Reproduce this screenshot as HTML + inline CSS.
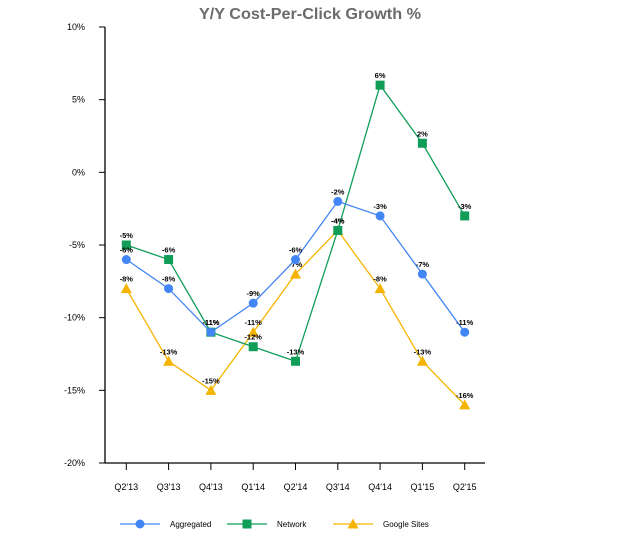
<!DOCTYPE html>
<html><head><meta charset="utf-8"><style>
body{margin:0;background:#fff;width:631px;height:533px;overflow:hidden}
text{font-family:"Liberation Sans",sans-serif}
</style></head><body>
<svg id="c" width="631" height="533">
<text x="310" y="19" text-anchor="middle" font-size="16" font-weight="bold" fill="#6b6b6b" textLength="222" lengthAdjust="spacingAndGlyphs">Y/Y Cost-Per-Click Growth %</text>
</svg>
<script>
const categories=["Q2'13","Q3'13","Q4'13","Q1'14","Q2'14","Q3'14","Q4'14","Q1'15","Q2'15"];
const aggregated=[-6,-8,-11,-9,-6,-2,-3,-7,-11];
const network=[-5,-6,-11,-12,-13,-4,6,2,-3];
const googleSites=[-8,-13,-15,-11,-7,-4,-8,-13,-16];
const yTicks=[10,5,0,-5,-10,-15,-20];
const svg=document.getElementById('c');const NS='http://www.w3.org/2000/svg';
const x0=126.3,dx=42.3,yTop=27,yBot=463,yMax=10,yMin=-20;
const X=i=>x0+i*dx;const Y=v=>yTop+(yMax-v)/(yMax-yMin)*(yBot-yTop);
function mk(t,a,p){const e=document.createElementNS(NS,t);for(const k in a)e.setAttribute(k,a[k]);(p||svg).appendChild(e);return e;}
let e;
e=mk('line',{x1:105,y1:yTop,x2:105,y2:yBot,stroke:'#000','stroke-width':1.3});


e=mk('line',{x1:105,y1:yBot,x2:485,y2:yBot,stroke:'#000','stroke-width':1.3});


yTicks.forEach(v=>{mk('line',{x1:99,y1:Y(v),x2:105,y2:Y(v),stroke:'#000'});
e=mk('text',{x:85,y:Y(v)+3,'text-anchor':'end','font-size':9});e.textContent=v+'%';

});
categories.forEach((c,i)=>{mk('line',{x1:X(i),y1:yBot,x2:X(i),y2:yBot+7,stroke:'#000'});
e=mk('text',{x:X(i),y:490,'text-anchor':'middle','font-size':9});e.textContent=c;

});
function marker(type,cx,cy,col,name){let m;
if(type==='c')m=mk('circle',{cx,cy,r:4.5,fill:col});
else if(type==='s')m=mk('rect',{x:cx-4.5,y:cy-4.5,width:9,height:9,fill:col});
else m=mk('polygon',{points:`${cx},${cy-5.5} ${cx+5.5},${cy+4.5} ${cx-5.5},${cy+4.5}`,fill:col});

return m;}
const series=[[googleSites,'#f4b400','t','google-sites'],[network,'#0f9d58','s','network'],[aggregated,'#4285f4','c','aggregated']];
series.forEach(([d,col,t,n])=>{
e=mk('polyline',{points:d.map((v,i)=>X(i)+','+Y(v)).join(' '),fill:'none',stroke:col,'stroke-width':1.3});


d.forEach((v,i)=>{marker(t,X(i),Y(v),col,n+'-point');
e=mk('text',{x:X(i),y:Y(v)-7,'text-anchor':'middle','font-size':7.5,'font-weight':'bold'});e.textContent=v+'%';

});});
[['Aggregated','#4285f4','c',120],['Network','#0f9d58','s',227],['Google Sites','#f4b400','t',333]].forEach(([l,col,t,lx])=>{
const g=mk('g',{});
mk('line',{x1:lx,y1:524,x2:lx+40,y2:524,stroke:col,'stroke-width':1.3},g);
marker(t,lx+20,524,col,'legend-marker');
const tx=mk('text',{x:lx+50,y:527,'font-size':8},g);tx.textContent=l;});
</script>
</body></html>
